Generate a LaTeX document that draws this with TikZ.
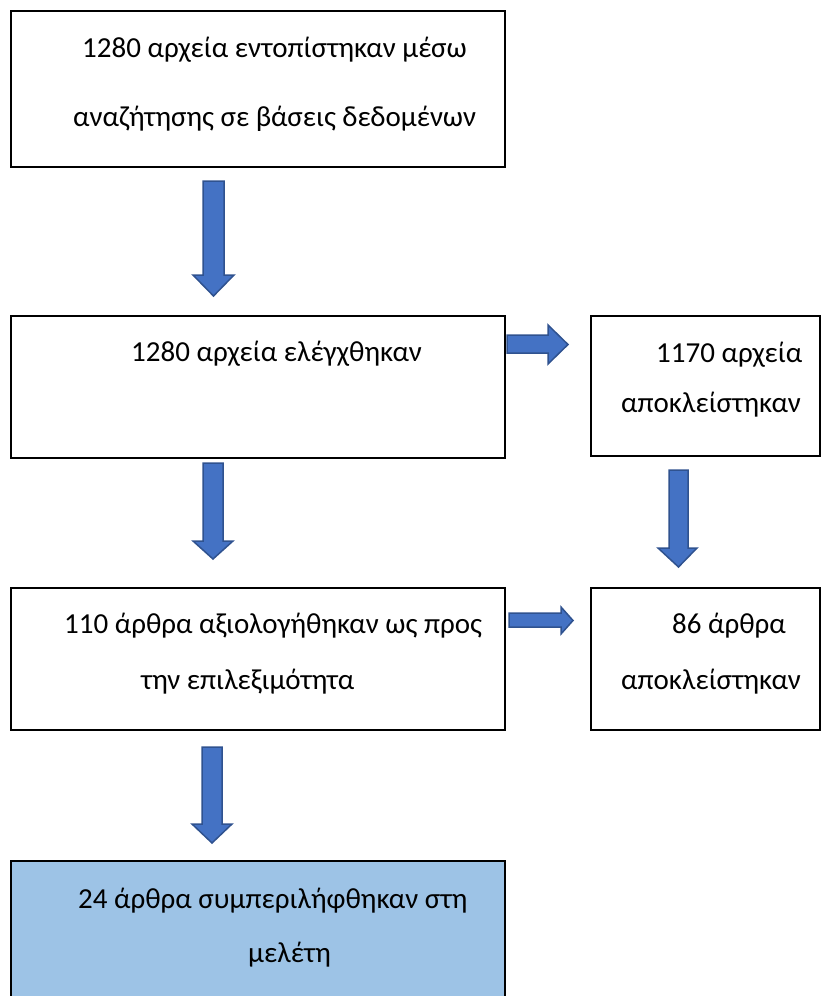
\documentclass[tikz,border=0pt]{standalone}
\usepackage{fontspec}
\setmainfont{Carlito}
\definecolor{arrowfill}{HTML}{4472C4}
\definecolor{arrowedge}{HTML}{2F528F}
\definecolor{finalfill}{HTML}{9DC3E6}
\begin{document}
\begin{tikzpicture}[x=1pt,y=-1pt,
  box/.style={draw=black,line width=1.6pt,inner sep=0pt},
  txt/.style={anchor=base west,inner sep=0pt,font=\fontsize{29}{34}\selectfont},
  blockarrow/.style={fill=arrowfill,draw=arrowedge,line width=1.5pt,line join=miter}]
\useasboundingbox (0,0) rectangle (821,996);
\clip (0,0) rectangle (821,996);

% boxes
\node[box,minimum width=494pt,minimum height=156pt] (b1) at (258,89) {};
\node[box,minimum width=494pt,minimum height=142pt] (b2) at (258,387) {};
\node[box,minimum width=229pt,minimum height=140pt] (b3) at (705.5,386) {};
\node[box,minimum width=494pt,minimum height=142pt] (b4) at (258,659) {};
\node[box,minimum width=229pt,minimum height=142pt] (b5) at (705.5,659) {};
\node[box,fill=finalfill,minimum width=494pt,minimum height=150pt] (b6) at (258,936) {};

% texts
\node[txt] (t1a) at (82,57) {1280 αρχεία εντοπίστηκαν μέσω};
\node[txt] (t1b) at (73,126) {αναζήτησης σε βάσεις δεδομένων};
\node[txt] (t2a) at (131,361) {1280 αρχεία ελέγχθηκαν};
\node[txt] (t3a) at (656,362) {1170 αρχεία};
\node[txt] (t3b) at (621,412) {αποκλείστηκαν};
\node[txt] (t4a) at (64,633) {110 άρθρα αξιολογήθηκαν ως προς};
\node[txt] (t4b) at (141,689) {την επιλεξιμότητα};
\node[txt] (t5a) at (672,633) {86 άρθρα};
\node[txt] (t5b) at (621,689) {αποκλείστηκαν};
\node[txt] (t6a) at (78,908) {24 άρθρα συμπεριλήφθηκαν στη};
\node[txt] (t6b) at (248,962) {μελέτη};

% block arrows, downward
\draw[blockarrow] (203,181) -- (224,181) -- (224,275) -- (234,275) -- (213.5,296)
  -- (193,275) -- (203,275) -- cycle;
\draw[blockarrow] (203,463) -- (223,463) -- (223,541) -- (233,541) -- (213,559)
  -- (193,541) -- (203,541) -- cycle;
\draw[blockarrow] (669,470) -- (688,470) -- (688,548) -- (697,548) -- (678.5,567)
  -- (658,548) -- (669,548) -- cycle;
\draw[blockarrow] (202,747) -- (222,747) -- (222,824) -- (232,824) -- (212,843)
  -- (192,824) -- (202,824) -- cycle;

% block arrows, rightward
\draw[blockarrow] (507,335) -- (548,335) -- (548,325) -- (568,344.5) -- (548,364)
  -- (548,353) -- (507,353) -- cycle;
\draw[blockarrow] (509,613) -- (561,613) -- (561,607) -- (573,620.5) -- (561,634)
  -- (561,627) -- (509,627) -- cycle;
\end{tikzpicture}
\end{document}
